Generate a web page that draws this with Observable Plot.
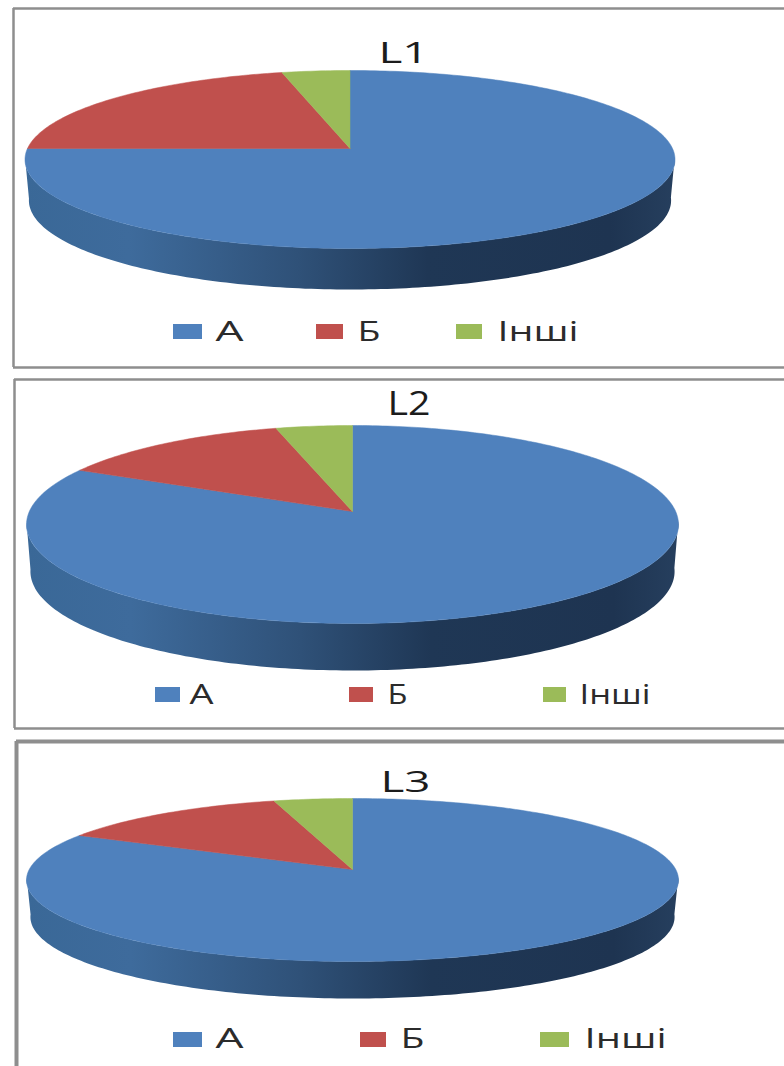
<!DOCTYPE html>
<html>
<head>
<meta charset="utf-8">
<script src="https://cdn.jsdelivr.net/npm/d3@7"></script>
<script src="https://cdn.jsdelivr.net/npm/@observablehq/plot@0.6"></script>
<style>
  html, body { margin: 0; padding: 0; background: #fff; overflow: hidden; }
  svg { display: block; }
</style>
</head>
<body>
<div id="chart"></div>
<script>
// Shares of each category, per chart
const categories = ["А", "Б", "Інші"];
const titles = ["L1", "L2", "L3"];
const sharesL1 = [75, 21.2, 3.8];
const sharesL2 = [82.4, 13.3, 4.3];
const sharesL3 = [82.4, 13.2, 4.4];
const colors = ["#4f81bd", "#c0504d", "#9bbb59"];

// Where each chart sits on the page: apex of the slices, disc extents, rim depth, frame, title and legend
const panels = [
  {
    title: titles[0], shares: sharesL1,
    apexX: 349.5, apexY: 148, top: 70, bottom: 248, halfWidth: 325, depth: 41,
    frame: {x: 13, y1: 8, y2: 367, w: 2.5},
    titleBox: {x: 403, y: 52.5, len: 50, size: 30},
    legendY: [324, 339], labelY: 331.5, labelSize: 27,
    swatches: [[173, 202], [316, 343], [456, 482]],
    labels: [[215, 28], [357, 23], [497, 81]]
  },
  {
    title: titles[1], shares: sharesL2,
    apexX: 352, apexY: 511, top: 425, bottom: 623, halfWidth: 326, depth: 47,
    frame: {x: 14, y1: 379, y2: 728, w: 2.5},
    titleBox: {x: 408.5, y: 404, len: 43, size: 33},
    legendY: [687, 702], labelY: 694.5, labelSize: 27,
    swatches: [[155, 180], [349, 373], [543, 566]],
    labels: [[189, 24], [387, 20], [579, 71]]
  },
  {
    title: titles[2], shares: sharesL3,
    apexX: 352, apexY: 869, top: 798, bottom: 961, halfWidth: 326, depth: 37,
    frame: {x: 16, y1: 741, y2: null, w: 4},
    titleBox: {x: 405, y: 781.5, len: 50, size: 30},
    legendY: [1032, 1047], labelY: 1038.5, labelSize: 27,
    swatches: [[173, 202], [360, 386], [540, 569]],
    labels: [[215, 28], [400, 24], [584, 82]]
  }
];

// Perspective mapping of a unit disc onto the page: the far edge is foreshortened,
// so the disc centre lands above the middle of the drawn ellipse.
function projector(p) {
  const up = p.apexY - p.top, down = p.bottom - p.apexY;
  const k = (down - up) / (down + up);
  const h = up * (1 + k);
  const w = p.halfWidth * Math.sqrt(1 - k * k);
  const at = (rx, rz, shrink = 1, dy = 0) => {
    const d = 1 + k * rz;
    return {x: p.apexX + shrink * w * rx / d, y: p.apexY - h * rz / d + dy};
  };
  return {at, k};
}

const rad = (deg) => deg * Math.PI / 180;

// One closed polygon per slice, running clockwise from twelve o'clock
function sliceRows(p, i) {
  const {at} = projector(p);
  const total = d3.sum(p.shares);
  const rows = [];
  let start = 0;
  p.shares.forEach((share, c) => {
    const sweep = 360 * share / total;
    const steps = Math.max(2, Math.ceil(sweep));
    const pts = [at(0, 0)];
    for (let s = 0; s <= steps; ++s) {
      const a = rad(start + sweep * s / steps);
      pts.push(at(Math.sin(a), Math.cos(a)));
    }
    pts.push(at(0, 0));
    pts.forEach((pt) => rows.push({...pt, category: categories[c], slice: `${i}-${c}`}));
    start += sweep;
  });
  return rows;
}

// The rim: front half of the disc outline and the same outline lowered by the depth
function rimRows(p) {
  const {at, k} = projector(p);
  const from = 90 + Math.asin(k) * 180 / Math.PI;
  const to = 270 - Math.asin(k) * 180 / Math.PI;
  const upper = [], lower = [];
  for (let d = from - 2; d <= to + 2; d += 1) {
    const a = rad(d);
    upper.push(at(Math.sin(a), Math.cos(a)));
    lower.push(at(Math.sin(a), Math.cos(a), 0.988, p.depth));
  }
  return [...upper, ...lower.reverse()];
}

// Shading along the rim, left to right
const rimStops = [
  [0, "#3a6897"], [0.16, "#3e6b9c"], [0.42, "#2f5178"],
  [0.62, "#1f3755"], [0.9, "#1e3451"], [1, "#263f5e"]
];
const rimGradient = () => {
  const defs = document.createElementNS("http://www.w3.org/2000/svg", "defs");
  const grad = document.createElementNS("http://www.w3.org/2000/svg", "linearGradient");
  grad.setAttribute("id", "rim-shade");
  for (const [offset, color] of rimStops) {
    const stop = document.createElementNS("http://www.w3.org/2000/svg", "stop");
    stop.setAttribute("offset", offset);
    stop.setAttribute("stop-color", color);
    grad.appendChild(stop);
  }
  defs.appendChild(grad);
  return defs;
};

// Text squeezed or widened to a fixed run length
const fitted = (len) => (index, scales, values, dims, ctx, next) => {
  const g = next(index, scales, values, dims, ctx);
  d3.select(g).selectAll("text")
    .attr("textLength", len)
    .attr("lengthAdjust", "spacingAndGlyphs");
  return g;
};

const marks = [rimGradient];

panels.forEach((p, i) => {
  const f = p.frame;
  const stroke = "#8e8e8e";
  marks.push(
    Plot.ruleY([f.y1], {x1: f.x, x2: 784, stroke, strokeWidth: f.w}),
    Plot.ruleX([f.x], {y1: f.y1, y2: f.y2 ?? 1066, stroke, strokeWidth: f.w})
  );
  if (f.y2 != null) {
    marks.push(Plot.ruleY([f.y2], {x1: f.x, x2: 784, stroke, strokeWidth: f.w}));
  }

  // Pie body, then the slices on top of it
  marks.push(Plot.line(rimRows(p), {x: "x", y: "y", fill: "url(#rim-shade)", stroke: "none", curve: "linear"}));
  marks.push(Plot.line(sliceRows(p, i), {
    x: "x", y: "y", z: "slice", fill: "category", stroke: "category", strokeWidth: 0.5, curve: "linear"
  }));

  // Title
  const t = p.titleBox;
  marks.push(Plot.text([p.title], {
    x: () => t.x, y: () => t.y, text: (d) => d, fontSize: t.size, fill: "#1c1c1c",
    textAnchor: "middle", lineAnchor: "middle", render: fitted(t.len)
  }));

  // Legend
  categories.forEach((name, c) => {
    const [x1, x2] = p.swatches[c];
    const [lx, len] = p.labels[c];
    marks.push(Plot.rect([name], {
      x1: () => x1, x2: () => x2, y1: () => p.legendY[0], y2: () => p.legendY[1], fill: (d) => d
    }));
    marks.push(Plot.text([name], {
      x: () => lx, y: () => p.labelY, text: (d) => d, fontSize: p.labelSize, fill: "#2b2b2b",
      textAnchor: "start", lineAnchor: "middle", render: fitted(len)
    }));
  });
});

const chart = Plot.plot({
  width: 784,
  height: 1066,
  margin: 0,
  x: {domain: [0, 784], range: [0, 784], axis: null},
  y: {domain: [0, 1066], range: [0, 1066], axis: null},
  color: {domain: categories, range: colors},
  style: {background: "#fff", fontFamily: "'Open Sans', 'Noto Sans', sans-serif"},
  marks
});
document.getElementById("chart").appendChild(chart);
</script>
</body>
</html>
